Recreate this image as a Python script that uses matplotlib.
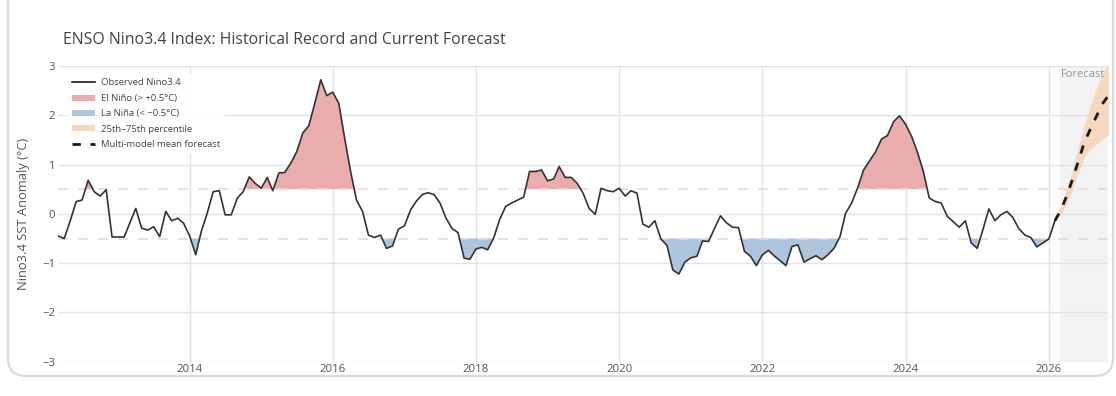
import numpy as np
import pandas as pd
import matplotlib.pyplot as plt
import matplotlib.dates as mdates
from matplotlib.lines import Line2D
from matplotlib.patches import Patch, FancyBboxPatch
from matplotlib.transforms import IdentityTransform

plt.rcParams['font.family'] = ['Open Sans', 'DejaVu Sans']

# monthly observed Nino3.4 anomaly, Mar 2012 .. Feb 2026
obs_start = '2012-03-01'
obs_vals = [
    -0.45, -0.50, -0.15, 0.25, 0.28, 0.68, 0.45, 0.36, 0.49, -0.47,
    -0.47, -0.47, -0.19, 0.11, -0.29, -0.33, -0.26, -0.46, 0.05, -0.14,
    -0.09, -0.19, -0.45, -0.83, -0.36, 0.02, 0.45, 0.47, -0.02, -0.02,
    0.32, 0.45, 0.75, 0.62, 0.52, 0.74, 0.47, 0.83, 0.84, 1.03,
    1.26, 1.64, 1.79, 2.24, 2.72, 2.40, 2.47, 2.24, 1.55, 0.86,
    0.28, 0.05, -0.43, -0.48, -0.43, -0.70, -0.65, -0.31, -0.24, 0.08,
    0.25, 0.39, 0.43, 0.39, 0.22, -0.09, -0.30, -0.38, -0.90, -0.92,
    -0.71, -0.68, -0.73, -0.49, -0.12, 0.15, 0.22, 0.28, 0.34, 0.86,
    0.86, 0.89, 0.67, 0.71, 0.96, 0.74, 0.74, 0.62, 0.42, 0.11,
    -0.01, 0.52, 0.47, 0.45, 0.52, 0.36, 0.47, 0.42, -0.21, -0.27,
    -0.14, -0.51, -0.64, -1.14, -1.22, -0.98, -0.89, -0.86, -0.55, -0.56,
    -0.30, -0.04, -0.18, -0.27, -0.28, -0.76, -0.86, -1.05, -0.83, -0.74,
    -0.85, -0.95, -1.05, -0.66, -0.63, -0.98, -0.91, -0.85, -0.93, -0.83,
    -0.70, -0.46, 0.01, 0.22, 0.52, 0.89, 1.07, 1.26, 1.52, 1.59,
    1.87, 1.99, 1.82, 1.57, 1.26, 0.86, 0.32, 0.25, 0.22, -0.05,
    -0.16, -0.27, -0.14, -0.59, -0.70, -0.29, 0.10, -0.14, -0.02, 0.05,
    -0.07, -0.30, -0.43, -0.48, -0.67, -0.59, -0.51, -0.14,
]

# forecast, Feb 2026 .. Nov 2026
fc_start = '2026-02-01'
fc_mean = [-0.14, 0.06, 0.35, 0.69, 1.07, 1.45, 1.72, 1.98, 2.23, 2.40]
fc_p25 = [-0.14, -0.03, 0.20, 0.50, 0.85, 1.15, 1.32, 1.42, 1.52, 1.60]
fc_p75 = [-0.14, 0.15, 0.50, 0.90, 1.35, 1.80, 2.20, 2.55, 2.85, 3.05]
forecast_shade_start = '2026-03-01'

thresh = 0.5

obs_dates = pd.date_range(obs_start, periods=len(obs_vals), freq='MS')
fc_dates = pd.date_range(fc_start, periods=len(fc_mean), freq='MS')
x_obs = mdates.date2num(obs_dates)
x_fc = mdates.date2num(fc_dates)
y_obs = np.array(obs_vals)

fig = plt.figure(figsize=(11.16, 3.96), dpi=100)
ax = fig.add_axes([0.0521, 0.0866, 0.9411, 0.7467])

x0, x1 = x_obs[0], x_fc[-1]
ax.axvspan(mdates.date2num(pd.Timestamp(forecast_shade_start)), x1,
           color='#f3f3f3', lw=0, zorder=0)

ax.fill_between(x_obs, y_obs, thresh, where=y_obs > thresh, interpolate=True,
                color='#e9adad', lw=0, zorder=1)
ax.fill_between(x_obs, y_obs, -thresh, where=y_obs < -thresh, interpolate=True,
                color='#aec5df', lw=0, zorder=1)

ax.axhline(thresh, color='#f3d6d6', lw=1.2, dashes=(6, 6), zorder=1.5)
ax.axhline(-thresh, color='#d6dde6', lw=1.2, dashes=(6, 6), zorder=1.5)

ax.fill_between(x_fc, fc_p25, fc_p75, color='#f5d8c0', lw=0, zorder=2)
ax.plot(x_obs, y_obs, color='#333333', lw=1.2, zorder=3)
ax.plot(x_fc, fc_mean, color='#1a1a1a', lw=2, dashes=(3, 3.5), zorder=4)

ax.text(mdates.date2num(pd.Timestamp(forecast_shade_start)) + 5, 2.93, 'Forecast',
        color='#999999', fontsize=8, va='top', ha='left', zorder=5)

ax.set_xlim(x0, x1)
ax.set_ylim(-3, 3)
ax.set_yticks(range(-3, 4))
ax.set_yticklabels(['\u22123', '\u22122', '\u22121', '0', '1', '2', '3'])
ax.xaxis.set_major_locator(mdates.YearLocator(2))
ax.xaxis.set_major_formatter(mdates.DateFormatter('%Y'))
ax.grid(True, color='#e3e3e3', lw=1)
ax.set_axisbelow(True)
for s in ax.spines.values():
    s.set_visible(False)
ax.tick_params(length=0, labelsize=8.2, colors='#555555', pad=2)
ax.set_ylabel('Nino3.4 SST Anomaly (\u00b0C)', fontsize=9.3, color='#555555')
ax.yaxis.set_label_coords(-0.027, 0.5)

handles = [
    Line2D([], [], color='#1a1a1a', lw=1.2),
    Patch(facecolor='#e9adad', edgecolor='none'),
    Patch(facecolor='#aec5df', edgecolor='none'),
    Patch(facecolor='#f5d8c0', edgecolor='none'),
    Line2D([], [], color='#1a1a1a', lw=2, dashes=(3, 3.5)),
]
labels = ['Observed Nino3.4', 'El Ni\u00f1o (> +0.5\u00b0C)', 'La Ni\u00f1a (< \u22120.5\u00b0C)',
          '25th\u201375th percentile', 'Multi-model mean forecast']
leg = ax.legend(handles, labels, loc='upper left', bbox_to_anchor=(0.004, 0.99),
                fontsize=6.8, frameon=True, framealpha=0.9, edgecolor='none',
                handlelength=2.5, handleheight=0.6, labelspacing=0.68, borderpad=0.5,
                handletextpad=0.6)
for t in leg.get_texts():
    t.set_color('#444444')
leg.get_frame().set_boxstyle('square', pad=0)

fig.text(63 / 1116, 1 - 40 / 396, 'ENSO Nino3.4 Index: Historical Record and Current Forecast',
         fontsize=11.4, color='#444444', va='center', ha='left')

card = FancyBboxPatch((8, 20), 1105, 420, boxstyle='round,pad=0,rounding_size=18',
                      transform=IdentityTransform(), facecolor='none',
                      edgecolor='#dadada', lw=1.6, zorder=10)
fig.patches.append(card)

fig.savefig('out.png', dpi=100)
